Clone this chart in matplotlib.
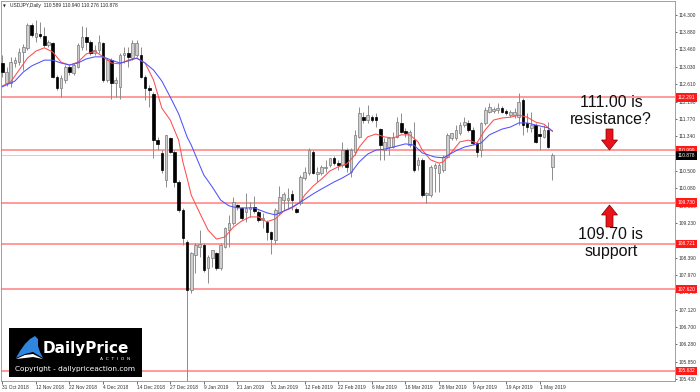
import numpy as np
import matplotlib.pyplot as plt
from matplotlib.patches import Rectangle, Polygon

# USDJPY daily candles, 31 Oct 2018 .. 6 May 2019
opens = [
    113.13, 112.64, 112.64, 113.13, 113.15, 113.40, 113.50, 114.06, 113.76, 113.84,
    113.79, 113.57, 113.62, 112.79, 112.52, 112.72, 113.03, 112.89, 113.03, 113.52,
    113.76, 113.64, 113.37, 113.45, 113.62, 112.72, 113.20, 112.64, 112.55, 113.33,
    113.37, 113.25, 113.33, 113.33, 112.79, 112.52, 112.38, 111.25, 110.94, 110.28,
    111.30, 110.96, 110.23, 109.55, 108.77, 107.60, 108.45, 108.65, 108.70, 108.14,
    108.38, 108.50, 108.14, 108.65, 109.06, 109.23, 109.67, 109.60, 109.50, 109.57,
    109.62, 109.50, 109.30, 109.26, 109.01, 108.82, 109.48, 109.79, 109.79, 109.94,
    109.57, 109.72, 110.33, 110.45, 110.96, 110.43, 110.45, 110.57, 110.65, 110.82,
    110.70, 110.65, 111.01, 110.47, 110.96, 111.33, 111.81, 111.74, 111.81, 111.81,
    111.52, 111.01, 111.08, 111.08, 111.33, 111.67, 111.47, 111.13, 111.25, 110.65,
    110.77, 109.91, 109.91, 110.57, 110.45, 110.52, 110.84, 111.30, 111.30, 111.43,
    111.62, 111.67, 111.50, 111.18, 111.01, 111.67, 111.94, 111.96, 111.99, 112.03,
    111.96, 111.86, 111.86, 111.81, 112.23, 111.67, 111.55, 111.62, 111.40, 111.33,
    111.50, 110.589]
highs = [
    113.33, 113.03, 113.28, 113.28, 113.50, 113.59, 114.11, 114.11, 114.18, 114.13,
    114.01, 113.69, 113.64, 112.84, 112.84, 113.08, 113.08, 113.13, 113.62, 114.03,
    114.01, 113.69, 113.57, 113.81, 113.64, 113.25, 113.25, 112.79, 113.37, 113.52,
    113.52, 113.69, 113.69, 113.52, 112.84, 112.59, 112.43, 111.33, 111.01, 111.38,
    111.33, 111.01, 110.28, 109.60, 108.82, 108.52, 108.74, 109.06, 108.74, 108.45,
    108.57, 108.52, 108.74, 109.13, 109.43, 109.87, 109.70, 109.62, 109.96, 109.74,
    109.89, 109.55, 109.48, 109.30, 109.04, 109.60, 110.13, 109.99, 110.08, 110.04,
    109.62, 110.40, 110.60, 111.06, 111.01, 110.60, 110.65, 110.77, 110.82, 110.87,
    110.77, 111.21, 111.06, 111.06, 111.50, 112.06, 111.94, 112.11, 111.86, 111.91,
    111.55, 111.30, 111.33, 111.45, 111.81, 111.91, 111.55, 111.50, 111.69, 110.84,
    110.82, 109.99, 110.65, 110.70, 110.70, 110.89, 111.43, 111.43, 111.62, 111.69,
    111.81, 111.74, 111.57, 111.21, 111.69, 112.06, 112.16, 112.06, 112.16, 112.08,
    112.01, 111.99, 112.03, 112.40, 112.28, 111.91, 111.94, 111.67, 111.57, 111.62,
    111.69, 110.940]
lows = [
    112.79, 112.57, 112.55, 113.03, 113.08, 112.96, 113.45, 113.76, 113.64, 113.74,
    113.52, 113.52, 112.77, 112.47, 112.30, 112.64, 112.84, 112.84, 113.01, 113.45,
    113.45, 113.33, 113.33, 113.37, 112.67, 112.67, 112.25, 112.30, 112.25, 113.13,
    113.03, 113.20, 113.28, 112.77, 112.23, 112.06, 110.82, 111.01, 110.45, 110.11,
    110.94, 110.11, 109.50, 108.70, 105.00, 107.53, 108.01, 108.40, 108.04, 107.77,
    108.16, 108.09, 108.09, 108.62, 108.65, 109.18, 109.55, 109.30, 109.26, 109.38,
    109.48, 109.26, 109.11, 108.82, 108.48, 108.72, 109.43, 109.55, 109.60, 109.55,
    109.48, 109.67, 110.28, 110.40, 110.43, 110.23, 110.40, 110.47, 110.60, 110.65,
    110.52, 110.60, 110.47, 110.35, 110.89, 111.30, 111.67, 111.67, 111.69, 111.57,
    110.77, 110.77, 110.89, 111.06, 111.30, 111.43, 111.33, 111.08, 110.47, 110.52,
    109.87, 109.72, 109.87, 109.99, 109.99, 110.47, 110.82, 111.25, 111.25, 111.38,
    111.57, 111.45, 111.13, 110.84, 110.84, 111.62, 111.91, 111.91, 111.91, 111.91,
    111.86, 111.81, 111.79, 111.62, 111.38, 111.45, 111.45, 111.18, 111.01, 111.30,
    111.06, 110.276]
closes = [
    112.91, 112.91, 113.15, 113.20, 113.40, 113.52, 114.06, 113.81, 113.86, 113.79,
    113.57, 113.64, 112.79, 112.52, 112.77, 113.03, 112.91, 113.08, 113.57, 113.76,
    113.64, 113.37, 113.45, 113.64, 112.72, 113.20, 112.64, 112.72, 113.33, 113.37,
    113.28, 113.62, 113.62, 112.79, 112.52, 112.47, 111.25, 111.16, 110.52, 111.38,
    110.96, 110.23, 109.55, 108.87, 107.60, 108.50, 108.70, 108.72, 108.09, 108.40,
    108.57, 108.14, 108.70, 109.11, 109.23, 109.75, 109.62, 109.35, 109.60, 109.62,
    109.52, 109.30, 109.35, 109.01, 108.84, 109.55, 109.87, 109.94, 109.84, 109.79,
    109.50, 110.35, 110.47, 111.01, 110.45, 110.47, 110.60, 110.60, 110.82, 110.70,
    110.65, 111.01, 110.60, 111.01, 111.38, 111.91, 111.74, 111.86, 111.74, 111.74,
    111.13, 111.21, 111.30, 111.33, 111.69, 111.45, 111.43, 111.45, 110.52, 110.77,
    109.91, 109.96, 110.60, 110.65, 110.65, 110.84, 111.38, 111.43, 111.50, 111.62,
    111.69, 111.50, 111.18, 110.96, 111.67, 111.99, 112.06, 112.01, 112.03, 111.94,
    111.91, 111.94, 111.94, 112.18, 111.62, 111.57, 111.62, 111.21, 111.35, 111.50,
    111.08, 110.878]

# moving averages, sampled at bar positions
red_x = [0, 2, 4, 6, 8, 10, 12, 14, 16, 18, 20, 22, 24, 26, 28, 30, 32, 34, 36, 38,
         40, 42, 43, 44, 45, 47, 49, 51, 53, 55, 57, 59, 61, 63, 65, 67, 69, 71, 72, 74,
         76, 78, 80, 82, 84, 85, 87, 89, 91, 93, 95, 97, 99, 100, 102, 104, 105, 107, 109, 111,
         113, 115, 117, 119, 121, 123, 125, 127, 129, 131]
red_v = [112.57, 112.67, 112.96, 113.25, 113.42, 113.50, 113.40, 113.15, 113.08, 113.15,
         113.35, 113.42, 113.28, 113.13, 113.11, 113.20, 113.25, 113.13, 112.72, 112.03,
         111.74, 111.25, 110.72, 110.33, 109.91, 109.48, 109.06, 108.84, 108.89, 109.13,
         109.28, 109.38, 109.38, 109.26, 109.33, 109.52, 109.60, 109.74, 109.91, 110.13,
         110.30, 110.50, 110.60, 110.67, 110.89, 111.08, 111.33, 111.40, 111.33, 111.30,
         111.38, 111.38, 111.21, 111.01, 110.77, 110.69, 110.72, 110.96, 111.21, 111.25,
         111.18, 111.50, 111.74, 111.79, 111.81, 111.86, 111.81, 111.69, 111.64, 111.47]
blue_x = [0, 3, 5, 7, 10, 12, 14, 16, 18, 20, 22, 24, 26, 28, 30, 32, 34, 36, 38, 40,
          42, 44, 45, 47, 48, 50, 52, 54, 56, 60, 63, 65, 67, 69, 71, 74, 76, 79, 81, 83,
          85, 87, 89, 91, 93, 96, 98, 100, 103, 105, 108, 110, 112, 114, 116, 119, 121, 123, 125, 127,
          130, 131]
blue_v = [112.55, 112.69, 112.91, 113.06, 113.20, 113.20, 113.13, 113.08, 113.13, 113.23,
          113.28, 113.28, 113.20, 113.13, 113.18, 113.25, 113.13, 112.96, 112.69, 112.30,
          111.89, 111.33, 111.13, 110.64, 110.40, 110.11, 109.79, 109.65, 109.60, 109.60,
          109.48, 109.43, 109.52, 109.62, 109.74, 109.94, 110.06, 110.23, 110.33, 110.45,
          110.72, 110.91, 111.01, 111.03, 111.08, 111.16, 111.13, 110.94, 110.84, 110.82,
          110.99, 111.08, 111.13, 111.18, 111.38, 111.52, 111.57, 111.67, 111.67, 111.62,
          111.55, 111.47]

levels = [112.291, 110.999, 109.730, 108.721, 107.620, 105.632]
bid = 110.878
price_ticks = [114.300, 113.880, 113.460, 113.030, 112.610, 112.190, 111.770, 111.340,
               110.920, 110.500, 110.080, 109.650, 109.230, 108.810, 108.390, 107.970,
               107.540, 107.120, 106.700, 106.280, 105.850, 105.430]
# tick labels that sit fully under a level tag are not shown
hidden_ticks = [110.920, 108.810]
date_labels = ['31 Oct 2018', '12 Nov 2018', '22 Nov 2018', '4 Dec 2018', '14 Dec 2018',
               '27 Dec 2018', '9 Jan 2019', '21 Jan 2019', '31 Jan 2019', '12 Feb 2019',
               '22 Feb 2019', '6 Mar 2019', '18 Mar 2019', '28 Mar 2019', '9 Apr 2019',
               '19 Apr 2019', '1 May 2019']
date_pos = list(range(0, 8 * len(date_labels), 8))

W, H = 700, 392
SMALL = 'Liberation Sans'


def fx(px):
    return px / W


def fy(py):
    return 1 - py / H


fig = plt.figure(figsize=(7, 3.92), dpi=100)
ax = fig.add_axes([fx(1), fy(381), fx(675) - fx(1), fy(1) - fy(381)])

o = np.array(opens)
h = np.array(highs)
l = np.array(lows)
c = np.array(closes)
x = np.arange(len(o))
up = c >= o

ax.vlines(x, l, h, color='#8c8c8c', lw=0.7, zorder=2)
body = np.maximum(np.abs(c - o), 0.015)
bottom = np.minimum(o, c)
ax.bar(x[up], body[up], bottom=bottom[up], width=0.62, color='#cfcfcf',
       edgecolor='#7a7a7a', linewidth=0.5, zorder=3)
ax.bar(x[~up], body[~up], bottom=bottom[~up], width=0.62, color='black',
       edgecolor='black', linewidth=0.5, zorder=3)

ax.plot(red_x, red_v, color='#ff4d4d', lw=0.75, zorder=4)
ax.plot(blue_x, blue_v, color='#5050ff', lw=0.75, zorder=4)

for lv in levels:
    ax.axhline(lv, color='#ff9a9a', lw=1.4, zorder=1)
ax.axhline(bid, color='#cfcfcf', lw=0.7, zorder=1)

ax.set_xlim(-0.31, 160.2)
ax.set_ylim(105.382, 114.641)

ax.set_xticks(date_pos)
ax.set_xticklabels(date_labels, ha='left', fontsize=3.5, family=SMALL)
ax.tick_params(axis='x', length=2, width=0.5, pad=1.0, colors='#333333')
ax.yaxis.tick_right()
ax.set_yticks(price_ticks)
ax.set_yticklabels(['' if p in hidden_ticks else '%.3f' % p for p in price_ticks],
                   fontsize=3.5, family=SMALL)
ax.tick_params(axis='y', length=1.5, width=0.5, pad=0.8, colors='#333333')
for s in ax.spines.values():
    s.set_color('#909090')
    s.set_linewidth(0.6)

ytr = ax.get_yaxis_transform()
for lv in levels:
    ax.text(1.004, lv, '%.3f' % lv, transform=ytr, ha='left', va='center',
            fontsize=3.5, family=SMALL, color='white', zorder=10, clip_on=False,
            bbox=dict(boxstyle='square,pad=0.35', fc='#ff1a1a', ec='none'))
ax.text(1.004, bid, '%.3f' % bid, transform=ytr, ha='left', va='center',
        fontsize=3.5, family=SMALL, color='white', zorder=10, clip_on=False,
        bbox=dict(boxstyle='square,pad=0.35', fc='black', ec='none'))

# header
fig.text(fx(2.5), fy(6), '\u25bc', fontsize=2.6, va='center', color='#222222')
fig.text(fx(9.5), fy(6), 'USDJPY,Daily  110.589 110.940 110.276 110.878',
         fontsize=3.5, family=SMALL, va='center', color='#222222')

# annotations
for txt, py in [('111.00 is', 102.5), ('resistance?', 119.5),
                ('109.70 is', 234), ('support', 251.5)]:
    fig.text(fx(611), fy(py), txt, fontsize=11.5, family='Liberation Sans',
             ha='center', va='center', color='#111111')


def arrow(cx, tip, base, end):
    pts = [(cx, tip), (cx + 8, base), (cx + 3.5, base), (cx + 3.5, end),
           (cx - 3.5, end), (cx - 3.5, base), (cx - 8, base)]
    fig.add_artist(Polygon([(fx(a), fy(b)) for a, b in pts], closed=True,
                           fc='#e8141c', ec='#7a0000', lw=0.5,
                           transform=fig.transFigure))


arrow(609.5, 150, 140, 129)
arrow(609.5, 205, 215, 227)

# logo
fig.add_artist(Rectangle((fx(9), fy(377)), fx(133), 49 / H, fc='black', ec='none',
                         transform=fig.transFigure))
wing = [(16, 358), (20, 351), (25, 344), (30, 339), (35, 336), (38, 339),
        (38, 346), (40, 352), (43, 358), (33, 352), (25, 354)]
fig.add_artist(Polygon([(fx(a), fy(b)) for a, b in wing], closed=True,
                       fc='#2f86e0', ec='none', transform=fig.transFigure))
swoosh = [(16, 359), (25, 355), (33, 354), (43, 359), (33, 357), (25, 358)]
fig.add_artist(Polygon([(fx(a), fy(b)) for a, b in swoosh], closed=True,
                       fc='white', ec='none', transform=fig.transFigure))
fig.text(fx(43), fy(348), 'DailyPrice', fontsize=11, weight='bold',
         family='DejaVu Sans', color='white', va='center')
fig.text(fx(130), fy(358.5), 'A  C  T  I  O  N', fontsize=3.2, family='DejaVu Sans',
         color='white', va='center', ha='right')
fig.text(fx(75.5), fy(369.5), 'Copyright - dailypriceaction.com', fontsize=5.3,
         family='DejaVu Sans', color='white', va='center', ha='center')

fig.savefig('out.png', dpi=100)
